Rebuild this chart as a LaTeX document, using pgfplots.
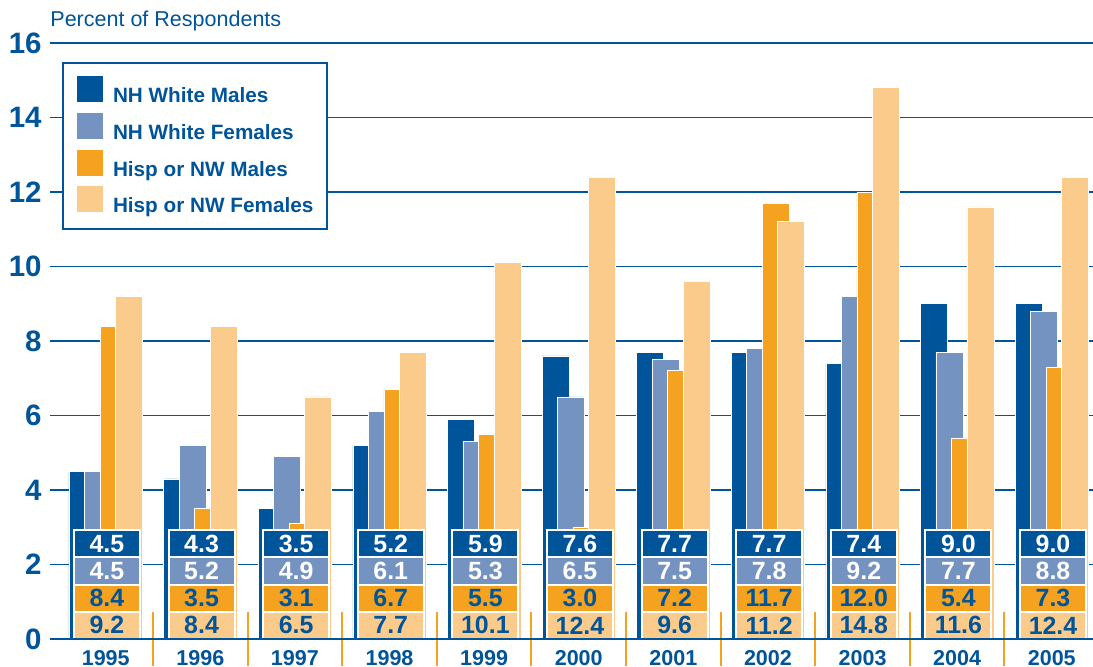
\documentclass[border=0pt]{standalone}
\usepackage{fontspec}
\setmainfont{Liberation Sans}
\usepackage{pgfplots}
\pgfplotsset{compat=1.18}
\usepackage{pgfplotstable}
\definecolor{cdb}{HTML}{00549A}
\definecolor{clb}{HTML}{7593C1}
\definecolor{cor}{HTML}{F4A21F}
\definecolor{clo}{HTML}{FBCB8C}

\pgfplotstableread{
i year wm wf hm hf
0 1995 4.5 4.5 8.4 9.2
1 1996 4.3 5.2 3.5 8.4
2 1997 3.5 4.9 3.1 6.5
3 1998 5.2 6.1 6.7 7.7
4 1999 5.9 5.3 5.5 10.1
5 2000 7.6 6.5 3.0 12.4
6 2001 7.7 7.5 7.2 9.6
7 2002 7.7 7.8 11.7 11.2
8 2003 7.4 9.2 12.0 14.8
9 2004 9.0 7.7 5.4 11.6
10 2005 9.0 8.8 7.3 12.4
}\data

\tikzset{lab/.style={draw=white, line width=1bp, minimum width=33bp, minimum height=13.625bp, inner sep=0pt, anchor=center, font=\bfseries\fontsize{12.5}{12.5}\selectfont}}

\begin{document}
\begin{tikzpicture}
\begin{axis}[name=ax, scale only axis, width=521.5bp, height=298bp,
  xmin=-0.589, xmax=10.436, ymin=0, ymax=16,
  axis line style={draw=none},
  xtick pos=bottom, ytick pos=left,
  ytick={0,2,...,16}, ymajorgrids=true,
  grid style={cdb, line width=0.75bp},
  major tick length=0pt,
  /pgf/number format/assume math mode=true,
  yticklabel style={font=\bfseries\fontsize{14.8}{14.8}\selectfont, text=cdb, inner sep=0pt, xshift=-4bp},
  xtick={0,...,10},
  xticklabels={1995,1996,1997,1998,1999,2000,2001,2002,2003,2004,2005},
  xticklabel style={font=\bfseries\fontsize{10.8}{10.8}\selectfont, text=cdb, inner sep=0pt, yshift=-5.5bp},
  extra x ticks={0.5,1.5,...,9.5},
  extra x tick labels={},
  extra x tick style={major tick length=27bp, tick align=center, tick style={draw=cor, line width=1bp}},
  legend cell align=left,
  legend style={at={(0.0115,0.968)}, anchor=north west, draw=cdb, line width=1bp, fill=white,
    font=\bfseries\fontsize{10.4}{12}\selectfont, text=cdb,
    inner xsep=7bp, inner ysep=6.5bp, row sep=3.65bp, nodes={inner sep=0pt, text=cdb},
    /tikz/every odd column/.append style={column sep=5bp}},
  legend image code/.code={\fill[#1, draw=none] (0bp,-2.75bp) rectangle (13bp,10.25bp);},
  after end axis/.code={
    \draw[cdb, line width=1bp] (rel axis cs:0,0) -- (rel axis cs:1,0);
    \node[anchor=base west, inner sep=0pt, font=\fontsize{10.8}{10.8}\selectfont, text=cdb] at ([yshift=8bp]rel axis cs:0,1) {Percent of Respondents};
  },
]
\addplot[ybar, bar width=0.285, bar shift=-0.2458, fill=cdb, draw=white, line width=0.3bp] table[x=i,y=wm]{\data};
\addlegendentry{NH White Males}
\addplot[ybar, bar width=0.285, bar shift=-0.0819, fill=clb, draw=white, line width=0.3bp] table[x=i,y=wf]{\data};
\addlegendentry{NH White Females}
\addplot[ybar, bar width=0.285, bar shift=0.0819, fill=cor, draw=white, line width=0.3bp] table[x=i,y=hm]{\data};
\addlegendentry{Hisp or NW Males}
\addplot[ybar, bar width=0.285, bar shift=0.2458, fill=clo, draw=white, line width=0.3bp] table[x=i,y=hf]{\data};
\addlegendentry{Hisp or NW Females}

\addplot[forget plot, draw=none, mark=none, point meta=explicit,
  nodes near coords={\pgfmathprintnumber[fixed,fixed zerofill,precision=1,assume math mode=true]{\pgfplotspointmeta}},
  nodes near coords align={anchor=center},
  every node near coord/.append style={lab, fill=cdb, text=white}]
  table[x expr=\thisrow{i}+0.013, y expr=2.5602, meta=wm]{\data};
\addplot[forget plot, draw=none, mark=none, point meta=explicit,
  nodes near coords={\pgfmathprintnumber[fixed,fixed zerofill,precision=1,assume math mode=true]{\pgfplotspointmeta}},
  nodes near coords align={anchor=center},
  every node near coord/.append style={lab, fill=clb, text=white}]
  table[x expr=\thisrow{i}+0.013, y expr=1.8287, meta=wf]{\data};
\addplot[forget plot, draw=none, mark=none, point meta=explicit,
  nodes near coords={\pgfmathprintnumber[fixed,fixed zerofill,precision=1,assume math mode=true]{\pgfplotspointmeta}},
  nodes near coords align={anchor=center},
  every node near coord/.append style={lab, fill=cor, text=cdb}]
  table[x expr=\thisrow{i}+0.013, y expr=1.0972, meta=hm]{\data};
\addplot[forget plot, draw=none, mark=none, point meta=explicit,
  nodes near coords={\pgfmathprintnumber[fixed,fixed zerofill,precision=1,assume math mode=true]{\pgfplotspointmeta}},
  nodes near coords align={anchor=center},
  every node near coord/.append style={lab, fill=clo, text=cdb}]
  table[x expr=\thisrow{i}+0.013, y expr=0.3657, meta=hf]{\data};
\end{axis}
\pgfresetboundingbox
\path[use as bounding box] ([shift={(-25bp,-14bp)}]ax.south west) rectangle ([shift={(0bp,21.5bp)}]ax.north east);
\end{tikzpicture}
\end{document}
